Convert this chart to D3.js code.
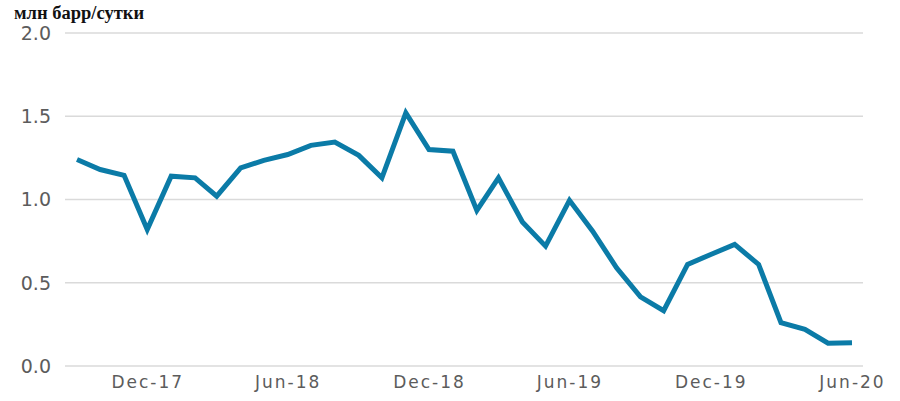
<!DOCTYPE html>
<html>
<head>
<meta charset="utf-8">
<script src="https://cdn.jsdelivr.net/npm/d3@7"></script>
<style>
  html, body { margin: 0; padding: 0; background: #fff; }
  svg { display: block; }
</style>
</head>
<body>
<svg id="chart" width="900" height="401"></svg>
<script>
const months = ["2017-09","2017-10","2017-11","2017-12","2018-01","2018-02","2018-03","2018-04","2018-05","2018-06","2018-07","2018-08","2018-09","2018-10","2018-11","2018-12","2019-01","2019-02","2019-03","2019-04","2019-05","2019-06","2019-07","2019-08","2019-09","2019-10","2019-11","2019-12","2020-01","2020-02","2020-03","2020-04","2020-05","2020-06"];
const values = [1.24,1.18,1.145,0.82,1.14,1.13,1.02,1.19,1.235,1.27,1.325,1.345,1.265,1.13,1.52,1.30,1.29,0.935,1.13,0.865,0.72,0.995,0.81,0.59,0.415,0.332,0.61,0.67,0.73,0.61,0.26,0.22,0.137,0.14];
const yTicks = [0, 0.5, 1.0, 1.5, 2.0];
const xTickLabels = ["2017-12","2018-06","2018-12","2019-06","2019-12","2020-06"];
const title = "млн барр/сутки";

const parse = d3.timeParse("%Y-%m");
const data = months.map((m, i) => ({ date: parse(m), value: values[i] }));

const svg = d3.select("#chart");

const x = d3.scaleTime()
  .domain([parse(months[0]), parse(months[months.length - 1])])
  .range([77, 852]);
const y = d3.scaleLinear().domain([0, 2]).range([366, 33]);

// gridlines
svg.append("g").selectAll("line").data(yTicks).join("line")
  .attr("x1", 65).attr("x2", 863)
  .attr("y1", d => y(d)).attr("y2", d => y(d))
  .attr("stroke", "#dadada").attr("stroke-width", 1.5);

// y labels
svg.append("g").selectAll("text").data(yTicks).join("text")
  .attr("x", 51).attr("y", d => y(d))
  .attr("dy", "0.36em")
  .attr("text-anchor", "end")
  .attr("font-family", "DejaVu Sans, sans-serif")
  .attr("font-size", 19)
  .attr("fill", "#5c5c5c")
  .text(d => d.toFixed(1));

// x axis labels
const xAxis = d3.axisBottom(x)
  .tickValues(xTickLabels.map(parse))
  .tickFormat(d3.timeFormat("%b-%y"))
  .tickSize(0);
const gx = svg.append("g").attr("transform", "translate(0,373)").call(xAxis);
gx.select(".domain").remove();
gx.selectAll("text")
  .attr("font-family", "DejaVu Sans, sans-serif")
  .attr("font-size", 17)
  .attr("letter-spacing", "2px")
  .attr("fill", "#5c5c5c");

// line
svg.append("path").datum(data)
  .attr("fill", "none")
  .attr("stroke", "#0b7ba7")
  .attr("stroke-width", 5)
  .attr("stroke-linejoin", "miter")
  .attr("d", d3.line().x(d => x(d.date)).y(d => y(d.value)));

// title
svg.append("text")
  .attr("x", 14).attr("y", 19)
  .attr("font-family", "Liberation Serif, Times New Roman, serif")
  .attr("font-weight", "bold")
  .attr("font-size", 18.5)
  .attr("fill", "#111")
  .text(title);
</script>
</body>
</html>
